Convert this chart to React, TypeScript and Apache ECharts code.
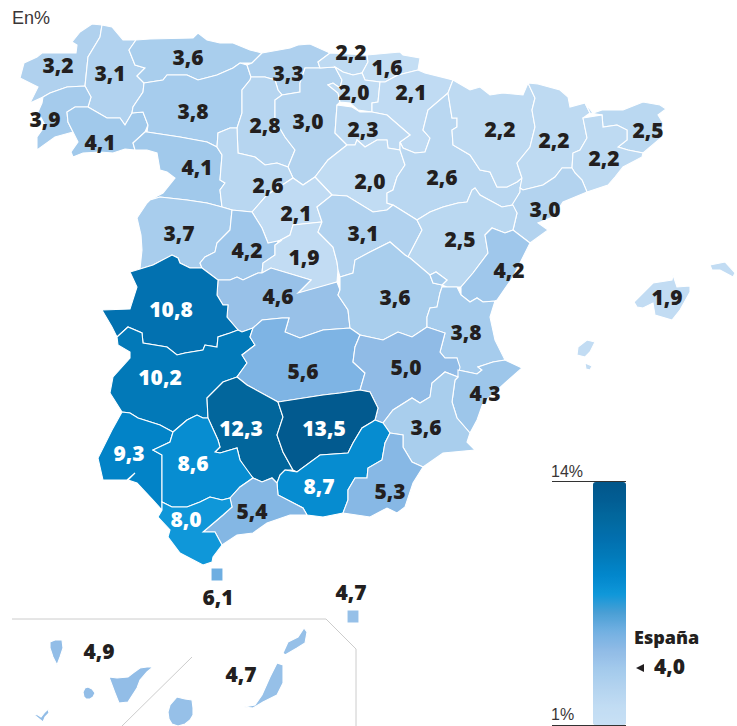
import React, { useEffect, useRef } from "react";
import * as echarts from "echarts";

const W = 737;
const H = 726;

const provinceNames = ["A Coruña","Lugo","Pontevedra","Ourense","Asturias","León","Zamora","Cantabria","Palencia","Burgos","Vizcaya","Guipúzcoa","Álava","Navarra","La Rioja","Valladolid","Soria","Segovia","Zaragoza","Huesca","Lleida","Girona","Barcelona","Tarragona","Salamanca","Ávila","Madrid","Guadalajara","Teruel","Castellón","Toledo","Cuenca","Valencia","Cáceres","Badajoz","Ciudad Real","Albacete","Alicante","Murcia","Córdoba","Jaén","Huelva","Sevilla","Granada","Almería","Málaga","Cádiz","Ceuta","Melilla","Baleares","Tenerife","Las Palmas"];
const rates = [3.2,3.1,3.9,4.1,3.6,3.8,4.1,3.3,2.8,3.0,2.2,1.6,2.0,2.1,2.3,2.6,2.0,2.1,2.6,2.2,2.2,2.5,2.2,3.0,3.7,4.2,1.9,3.1,2.5,4.2,4.6,3.6,3.8,10.8,10.2,5.6,5.0,4.3,3.6,12.3,13.5,9.3,8.6,8.7,5.3,5.4,8.0,6.1,4.7,1.9,4.9,4.7];
const scaleColors = ["#c8e0f5","#c1dcf3","#b3d3ef","#a3caec","#90bbe6","#72b0e2","#4a9fd5","#0f97d9","#0287cc","#027bba","#026fae","#02699f","#025e94","#02568a"];
const scaleLabels = ["14%", "1%"];
const scaleMin = 1;
const scaleMax = 14;
const unitLabel = "En%";
const nationalName = "España";
const nationalValue = 4.0;
const fmt = (v: number) => v.toFixed(1).replace(".", ",");

type Pt = number[];
// Outline of each province (one or more rings) and its label anchor.
const shapes: Record<string, { rings: Pt[][]; cp: Pt }> = {
  "A Coruña": { cp: [58,65], rings: [[[102,25],[92,24],[80,32],[72,42],[77,45],[76,53],[60,53],[42,53],[37,57],[24,63],[20,78],[28,82],[38,87],[30,103],[43,97],[50,93],[67,87],[85,86],[88,57],[100,37]]] },
  "Lugo": { cp: [110,73], rings: [[[102,25],[112,27],[123,40],[136,40],[129,50],[135,65],[145,68],[137,76],[144,83],[143,92],[133,107],[132,113],[125,125],[120,118],[107,118],[88,107],[91,97],[85,86],[88,57],[100,37]]] },
  "Pontevedra": { cp: [45,119], rings: [[[43,97],[50,93],[67,87],[85,86],[91,97],[88,107],[75,107],[67,112],[68,122],[73,132],[55,137],[37,150],[37,137],[42,130],[45,125],[38,112],[42,103]]] },
  "Ourense": { cp: [100,142], rings: [[[88,107],[107,118],[120,118],[125,125],[132,113],[143,112],[148,125],[145,132],[133,143],[135,150],[125,149],[113,153],[100,152],[83,153],[73,157],[71,152],[78,142],[73,132],[68,122],[67,112],[75,107]]] },
  "Asturias": { cp: [188,57], rings: [[[136,40],[150,39],[193,38],[198,33],[207,40],[220,43],[233,43],[250,50],[262,53],[252,63],[240,63],[233,68],[217,75],[198,80],[187,75],[167,75],[163,80],[144,83],[137,76],[145,68],[135,65],[129,50]]] },
  "León": { cp: [193,111], rings: [[[144,83],[163,80],[167,75],[187,75],[198,80],[217,75],[233,68],[240,63],[247,65],[251,77],[250,80],[242,90],[242,113],[237,128],[230,128],[218,133],[217,147],[207,142],[180,137],[147,132],[148,125],[143,112],[132,113],[133,107],[143,92]]] },
  "Zamora": { cp: [197,167], rings: [[[145,132],[147,132],[180,137],[207,142],[217,147],[222,155],[220,180],[225,183],[220,190],[222,207],[207,203],[187,200],[160,197],[150,200],[163,193],[175,178],[167,172],[160,170],[157,153],[147,150],[135,150],[133,143]]] },
  "Cantabria": { cp: [288,73], rings: [[[262,53],[290,48],[298,45],[310,44],[330,53],[318,62],[320,68],[305,68],[300,83],[300,92],[282,95],[278,90],[275,80],[265,77],[251,77],[247,65],[252,63]]] },
  "Palencia": { cp: [265,125], rings: [[[251,77],[265,77],[275,80],[278,90],[282,95],[275,100],[275,120],[285,137],[295,150],[288,167],[277,163],[265,165],[255,157],[238,153],[237,128],[242,113],[242,90],[250,80]]] },
  "Burgos": { cp: [308,121], rings: [[[275,100],[282,95],[300,92],[300,83],[305,68],[320,68],[335,67],[342,80],[340,88],[333,83],[328,85],[338,93],[340,102],[337,105],[335,133],[347,145],[328,160],[315,177],[303,185],[293,178],[288,167],[295,150],[285,137],[275,120]]] },
  "Vizcaya": { cp: [351,52], rings: [[[318,62],[330,53],[367,55],[368,62],[362,73],[353,75],[343,72],[335,67],[320,68]]] },
  "Guipúzcoa": { cp: [387,67], rings: [[[367,55],[400,52],[403,55],[420,58],[418,70],[398,75],[385,82],[380,82],[365,80],[362,73],[368,62]]] },
  "Álava": { cp: [354,92], rings: [[[335,67],[343,72],[353,75],[362,73],[365,80],[380,82],[378,102],[372,103],[372,112],[358,110],[350,103],[340,102],[338,93],[328,85],[333,83],[340,88],[342,80]]] },
  "Navarra": { cp: [411,92], rings: [[[418,70],[425,73],[453,80],[448,93],[428,110],[423,130],[430,138],[425,152],[415,153],[403,148],[400,142],[410,135],[387,115],[372,112],[372,103],[378,102],[380,82],[385,82],[398,75]]] },
  "La Rioja": { cp: [363,129], rings: [[[337,105],[352,107],[360,112],[372,112],[387,115],[410,135],[400,142],[400,150],[388,148],[387,140],[377,140],[365,147],[357,140],[355,145],[347,145],[335,133]]] },
  "Valladolid": { cp: [268,185], rings: [[[218,133],[230,128],[237,128],[238,153],[255,157],[265,165],[277,163],[288,167],[293,178],[267,195],[252,212],[232,210],[222,207],[220,190],[225,183],[220,180],[222,155],[217,147]]] },
  "Soria": { cp: [370,181], rings: [[[315,177],[328,160],[347,145],[355,145],[357,140],[365,147],[377,140],[387,140],[388,148],[400,150],[405,165],[397,177],[393,190],[387,193],[387,203],[393,205],[387,210],[373,212],[347,196],[332,195]]] },
  "Segovia": { cp: [296,213], rings: [[[252,212],[267,195],[293,178],[303,185],[315,177],[332,195],[317,207],[322,222],[293,225],[290,235],[277,242],[268,243],[262,228]]] },
  "Zaragoza": { cp: [442,177], rings: [[[448,93],[452,118],[457,118],[457,127],[452,130],[453,145],[470,155],[480,170],[490,172],[497,187],[507,187],[517,182],[522,178],[520,192],[513,205],[502,207],[480,195],[475,188],[472,190],[467,202],[458,203],[443,207],[430,212],[417,220],[393,205],[387,203],[387,193],[393,190],[397,177],[405,165],[400,150],[400,142],[403,148],[415,153],[425,152],[430,138],[423,130],[428,110]]] },
  "Huesca": { cp: [500,129], rings: [[[453,80],[470,90],[480,87],[490,95],[503,93],[523,95],[528,83],[535,98],[532,110],[535,127],[530,147],[517,163],[522,178],[517,182],[507,187],[497,187],[490,172],[480,170],[470,155],[453,145],[452,130],[457,127],[457,118],[452,118],[448,93]]] },
  "Lleida": { cp: [554,140], rings: [[[528,83],[538,84],[560,90],[568,97],[570,107],[585,103],[590,113],[583,118],[587,138],[580,150],[573,153],[572,168],[562,168],[555,177],[543,185],[523,190],[520,188],[522,178],[517,163],[530,147],[535,127],[532,110],[535,98]]] },
  "Girona": { cp: [648,130], rings: [[[585,103],[593,113],[602,110],[623,110],[643,102],[660,105],[666,109],[658,115],[663,123],[662,137],[643,153],[628,150],[618,147],[627,140],[627,130],[617,125],[603,127],[602,115],[590,113]]] },
  "Barcelona": { cp: [604,158], rings: [[[583,118],[602,115],[603,127],[617,125],[627,130],[627,140],[618,147],[628,150],[643,153],[642,157],[623,167],[615,177],[608,185],[587,192],[582,180],[575,173],[572,168],[573,153],[580,150],[587,138]]] },
  "Tarragona": { cp: [545,209], rings: [[[520,188],[523,190],[543,185],[555,177],[562,168],[572,168],[575,173],[582,180],[587,192],[563,202],[553,217],[538,223],[548,230],[530,243],[513,230],[517,213],[512,205],[520,192]]] },
  "Salamanca": { cp: [179,233], rings: [[[147,203],[150,200],[160,197],[187,200],[207,203],[222,207],[232,210],[230,230],[217,243],[215,252],[205,257],[200,263],[202,268],[190,268],[180,263],[178,258],[172,255],[153,265],[140,269],[142,250],[141,235],[137,218]]] },
  "Ávila": { cp: [247,250], rings: [[[230,230],[217,243],[215,252],[205,257],[200,263],[202,268],[218,280],[230,280],[237,277],[243,280],[258,273],[262,273],[263,263],[275,255],[275,245],[282,240],[268,243],[262,228],[252,212],[232,210]]] },
  "Madrid": { cp: [304,257], rings: [[[293,225],[322,222],[318,232],[333,247],[337,262],[338,270],[337,282],[322,287],[298,293],[311,280],[271,268],[262,273],[263,263],[275,255],[275,245],[282,240],[277,242],[290,235]]] },
  "Guadalajara": { cp: [363,233], rings: [[[317,207],[332,195],[347,196],[373,212],[387,210],[393,205],[417,220],[422,230],[408,257],[405,255],[390,242],[370,252],[355,260],[353,273],[340,277],[338,270],[337,262],[333,247],[318,232],[322,222]]] },
  "Teruel": { cp: [460,239], rings: [[[417,220],[430,212],[443,207],[458,203],[467,202],[472,190],[475,188],[480,195],[502,207],[513,205],[517,213],[513,230],[505,233],[492,228],[485,235],[487,247],[488,253],[473,273],[461,287],[447,287],[442,285],[447,280],[436,272],[430,275],[410,258],[408,257],[422,230]]] },
  "Castellón": { cp: [509,270], rings: [[[485,235],[492,228],[505,233],[513,230],[530,243],[513,277],[497,300],[495,301],[483,302],[477,298],[470,302],[461,295],[461,287],[473,273],[488,253],[487,247]]] },
  "Toledo": { cp: [278,296], rings: [[[218,280],[230,280],[237,277],[243,280],[258,273],[262,273],[271,268],[311,280],[298,293],[337,282],[340,290],[338,295],[348,310],[350,328],[323,330],[300,338],[285,332],[289,318],[282,318],[262,320],[253,328],[242,332],[238,330],[227,317],[228,305],[223,305],[217,295]]] },
  "Cuenca": { cp: [395,297], rings: [[[340,277],[353,273],[355,260],[370,252],[390,242],[405,255],[410,258],[430,275],[433,283],[442,285],[442,287],[440,293],[437,307],[430,308],[427,317],[427,327],[412,337],[398,332],[383,340],[360,335],[350,328],[348,310],[338,295],[340,290]]] },
  "Valencia": { cp: [466,332], rings: [[[442,287],[457,287],[461,295],[470,302],[477,298],[483,302],[495,301],[490,317],[495,340],[505,360],[493,362],[478,367],[482,370],[477,374],[468,372],[458,370],[457,358],[445,358],[440,352],[445,333],[427,327],[427,317],[430,308],[437,307],[440,293]],[[430,275],[436,272],[447,280],[442,285],[433,283]]] },
  "Cáceres": { cp: [171,309], rings: [[[130,272],[140,269],[153,265],[172,255],[178,258],[180,263],[190,268],[202,268],[218,280],[217,295],[223,305],[228,305],[227,317],[238,330],[230,333],[218,337],[217,347],[205,345],[203,350],[185,353],[177,355],[167,347],[143,343],[142,333],[128,327],[117,337],[112,327],[102,310],[130,309],[137,287]]] },
  "Badajoz": { cp: [160,377], rings: [[[128,327],[142,333],[143,343],[167,347],[177,355],[185,353],[203,350],[205,345],[217,347],[218,337],[230,333],[238,330],[242,332],[253,328],[250,337],[255,345],[242,355],[247,363],[237,377],[223,382],[207,398],[208,418],[203,418],[197,415],[187,420],[173,432],[160,425],[138,418],[130,413],[122,412],[110,393],[113,377],[130,358],[130,352],[118,345],[117,337]]] },
  "Ciudad Real": { cp: [303,371], rings: [[[253,328],[262,320],[282,318],[289,318],[285,332],[300,338],[323,330],[350,328],[360,335],[355,347],[353,362],[365,373],[360,390],[340,393],[323,395],[278,402],[247,385],[237,377],[247,363],[242,355],[255,345],[250,337]]] },
  "Albacete": { cp: [406,367], rings: [[[360,335],[383,340],[398,332],[412,337],[427,327],[445,333],[440,352],[445,358],[457,358],[460,367],[458,377],[445,372],[432,383],[430,397],[420,403],[412,398],[393,410],[383,423],[375,420],[378,408],[370,392],[360,390],[365,373],[353,362],[355,347]]] },
  "Alicante": { cp: [485,393], rings: [[[458,370],[477,374],[482,370],[478,367],[493,362],[505,360],[522,368],[505,383],[483,403],[477,420],[470,433],[457,418],[452,402],[455,380],[458,377]]] },
  "Murcia": { cp: [426,427], rings: [[[458,377],[455,380],[452,402],[457,418],[470,433],[467,442],[475,450],[443,453],[423,467],[412,462],[403,447],[403,435],[390,433],[383,423],[393,410],[412,398],[420,403],[430,397],[432,383],[445,372]]] },
  "Córdoba": { cp: [241,428], rings: [[[237,377],[247,385],[278,402],[283,417],[277,435],[283,452],[293,470],[285,470],[280,475],[277,483],[272,478],[262,482],[253,478],[245,468],[240,460],[237,448],[220,453],[215,452],[220,447],[218,440],[208,418],[207,398],[223,382]]] },
  "Jaén": { cp: [324,428], rings: [[[278,402],[323,395],[340,393],[360,390],[370,392],[378,408],[375,420],[372,422],[362,428],[353,443],[348,453],[320,455],[297,472],[293,470],[283,452],[277,435],[283,417]]] },
  "Huelva": { cp: [129,453], rings: [[[122,412],[130,413],[138,418],[160,425],[173,432],[170,442],[153,450],[162,455],[162,472],[162,510],[153,500],[137,483],[128,480],[135,473],[127,480],[103,480],[98,458],[112,430]]] },
  "Sevilla": { cp: [193,463], rings: [[[173,432],[187,420],[197,415],[203,418],[208,418],[218,440],[220,447],[215,452],[220,453],[237,448],[240,460],[253,478],[240,487],[230,498],[222,500],[210,497],[200,502],[187,507],[172,507],[162,502],[162,472],[162,455],[153,450],[170,442]]] },
  "Granada": { cp: [319,486], rings: [[[390,433],[383,423],[375,420],[372,422],[362,428],[353,443],[348,453],[320,455],[297,472],[285,470],[280,475],[277,483],[278,495],[303,508],[307,515],[323,517],[343,513],[348,500],[348,490],[355,478],[367,478],[368,468],[382,460],[385,443]]] },
  "Almería": { cp: [390,491], rings: [[[390,433],[403,435],[403,447],[412,462],[423,467],[413,483],[405,507],[397,513],[387,508],[370,517],[343,513],[348,500],[348,490],[355,478],[367,478],[368,468],[382,460],[385,443]]] },
  "Málaga": { cp: [252,511], rings: [[[230,498],[240,487],[253,478],[262,482],[272,478],[277,483],[278,495],[303,508],[307,515],[290,515],[267,523],[253,533],[237,535],[222,545],[215,532],[203,532],[223,515],[232,507]]] },
  "Cádiz": { cp: [186,519], rings: [[[162,510],[162,502],[172,507],[187,507],[200,502],[210,497],[222,500],[230,498],[232,507],[223,515],[203,532],[215,532],[222,545],[213,557],[212,562],[203,565],[180,553],[168,537],[170,530],[158,517]]] },
  "Ceuta": { cp: [218,597], rings: [[[211,568],[223,568],[223,581],[211,581]]] },
  "Melilla": { cp: [351,592], rings: [[[347,610],[359,610],[359,623],[347,623]]] },
  "Baleares": { cp: [667,297], rings: [
    [[673,275],[672,280],[653,283],[634,302],[637,307],[643,308],[653,303],[655,315],[672,320],[680,310],[690,292],[690,286],[677,287]],
    [[710,265],[725,262],[735,273],[733,277],[720,270],[712,270]],
    [[587,340],[595,342],[590,352],[585,357],[577,355],[578,347]],
    [[585,363],[592,366],[590,370],[586,369]]] },
  "Tenerife": { cp: [99,651], rings: [
    [[109,677],[117,678],[128,677],[133,673],[140,668],[147,667],[153,667],[147,672],[140,680],[137,688],[128,702],[119,703],[115,693]],
    [[50,642],[55,640],[62,640],[63,648],[60,657],[57,665],[53,657],[50,648]],
    [[83,692],[85,688],[88,687],[92,689],[95,693],[93,697],[90,699],[86,699],[84,697]],
    [[33,714],[38,715],[41,717],[45,712],[48,709],[49,713],[45,717],[43,722],[38,718]]] },
  "Las Palmas": { cp: [241,674], rings: [
    [[177,697],[185,699],[192,700],[193,708],[193,715],[190,720],[185,724],[178,726],[172,724],[169,719],[168,712],[170,705]],
    [[277,663],[283,665],[283,683],[277,695],[263,702],[253,708],[244,707],[255,705],[262,695],[270,677]],
    [[304,628],[307,632],[305,643],[297,648],[285,655],[283,653],[288,642],[298,637]]] },
};

function buildGeo() {
  let minX = Infinity, minY = Infinity, maxX = -Infinity, maxY = -Infinity;
  const features = provinceNames.map((name) => {
    const s = shapes[name];
    const rings = s.rings.map((r) => {
      r.forEach(([x, y]) => {
        minX = Math.min(minX, x); maxX = Math.max(maxX, x);
        minY = Math.min(minY, y); maxY = Math.max(maxY, y);
      });
      return [...r, r[0]];
    });
    return {
      type: "Feature",
      properties: { name, cp: s.cp },
      geometry: { type: "MultiPolygon", coordinates: rings.map((r) => [r]) },
    };
  });
  return { geo: { type: "FeatureCollection", features }, box: { minX, minY, maxX, maxY } };
}

export default function App() {
  const ref = useRef<HTMLDivElement>(null);
  useEffect(() => {
    if (!ref.current) return;
    const chart = echarts.init(ref.current, undefined, { renderer: "svg" });
    const { geo, box } = buildGeo();
    echarts.registerMap("spain", geo as any);
    const boldFont = "'Open Sans', 'Liberation Sans', sans-serif";
    chart.setOption({
      animation: false,
      backgroundColor: "#ffffff",
      visualMap: {
        type: "continuous",
        min: scaleMin,
        max: scaleMax,
        left: 593,
        top: 482,
        padding: 0,
        itemWidth: 33,
        itemHeight: 243,
        calculable: false,
        hoverLink: false,
        showLabel: false,
        text: [],
        inRange: { color: scaleColors },
      },
      series: [
        {
          type: "map",
          map: "spain",
          animation: false,
          silent: true,
          selectedMode: false,
          roam: false,
          projection: {
            project: (p: number[]) => [p[0], p[1]],
            unproject: (p: number[]) => [p[0], p[1]],
          },
          left: box.minX,
          top: box.minY,
          width: box.maxX - box.minX,
          height: box.maxY - box.minY,
          itemStyle: { borderColor: "#ffffff", borderWidth: 1.1 },
          label: {
            show: true,
            fontFamily: boldFont,
            fontWeight: 800,
            fontSize: 21,
            formatter: (p: any) => fmt(p.value),
          },
          emphasis: { disabled: true },
          data: provinceNames.map((name, i) => ({
            name,
            value: rates[i],
            label: { color: rates[i] >= 8 ? "#ffffff" : "#231f20" },
          })),
        },
      ],
      graphic: [
        { type: "text", left: 12, top: 9, style: { text: unitLabel, font: "18px 'Liberation Sans', sans-serif", fill: "#3a3637" } },
        { type: "line", shape: { x1: 552, y1: 481.5, x2: 626, y2: 481.5 }, style: { stroke: "#333333", lineWidth: 1 } },
        { type: "line", shape: { x1: 552, y1: 725.5, x2: 626, y2: 725.5 }, style: { stroke: "#333333", lineWidth: 1 } },
        { type: "text", left: 551, top: 463, style: { text: scaleLabels[0], font: "16px 'Liberation Sans', sans-serif", fill: "#3a3637" } },
        { type: "text", left: 551, top: 706, style: { text: scaleLabels[1], font: "16px 'Liberation Sans', sans-serif", fill: "#3a3637" } },
        { type: "text", left: 634, top: 628, style: { text: nationalName, font: `800 18px ${boldFont}`, fill: "#231f20" } },
        { type: "text", left: 654, top: 655, style: { text: fmt(nationalValue), font: `800 21px ${boldFont}`, fill: "#231f20" } },
        { type: "polygon", shape: { points: [[636, 668], [644, 664], [644, 672]] }, style: { fill: "#231f20" } },
        { type: "polyline", shape: { points: [[12, 619], [326, 619], [356, 649], [356, 726]] }, style: { stroke: "#cccccc", lineWidth: 1, fill: "none" } },
        { type: "line", shape: { x1: 192, y1: 657, x2: 122, y2: 726 }, style: { stroke: "#cccccc", lineWidth: 1 } },
      ],
    });
    return () => chart.dispose();
  }, []);
  return <div ref={ref} style={{ position: "absolute", left: 0, top: 0, width: W, height: H }} />;
}
